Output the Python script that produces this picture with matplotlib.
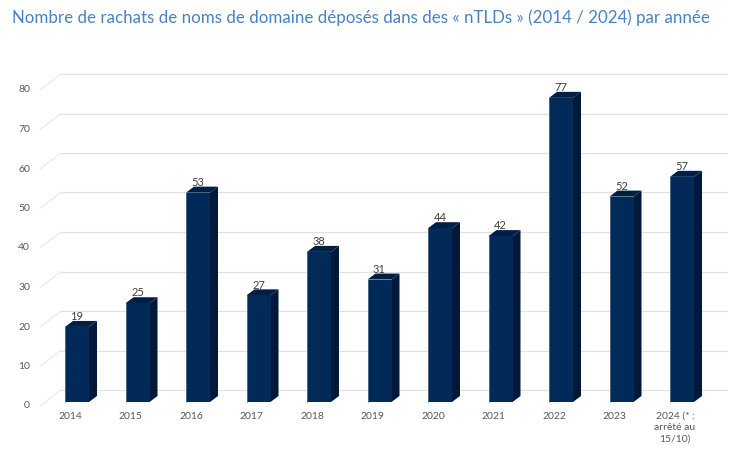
import matplotlib.pyplot as plt
from matplotlib.patches import Polygon

# chart data
years = ["2014", "2015", "2016", "2017", "2018", "2019", "2020", "2021",
         "2022", "2023", "2024 (* :\narrêté au\n15/10)"]
rachats = [19, 25, 53, 27, 38, 31, 44, 42, 77, 52, 57]
y_ticks = [0, 10, 20, 30, 40, 50, 60, 70, 80]

title = "Nombre de rachats de noms de domaine déposés dans des « nTLDs » (2014 / 2024) par année"

# colours
front_col = "#012a58"
side_col = "#00193a"
top_col = "#001f45"
grid_col = "#e0e0e0"
text_col = "#404040"

plt.rcParams['font.family'] = ['Lato', 'DejaVu Sans']

W, H = 745, 462
fig = plt.figure(figsize=(W / 100, H / 100), dpi=100)
ax = fig.add_axes([0, 0, 1, 1])
ax.axis("off")

# pixel mapping: category i -> 77 + 60.5*i, value 0 -> y pixel 402, 3.95 px per unit
px_x, x0 = 60.5, 77
px_y, y0 = 3.95, 402
ax.set_xlim((0 - x0) / px_x, (W - x0) / px_x)
ax.set_ylim(-(H - y0) / px_y, y0 / px_y)

# 3d depth (in data units)
bar_half = 12 / px_x
bar_dx = 8 / px_x
bar_dy = 6 / px_y
wall_x0 = (61 - x0) / px_x
wall_x1 = (727 - x0) / px_x
wall_dy = (402 - 390) / px_y
diag_x0 = (40 - x0) / px_x
diag_dy = -4 / px_y

# back wall gridlines and floor diagonals
for v in y_ticks:
    ax.plot([wall_x0, wall_x1], [v + wall_dy, v + wall_dy], color=grid_col, lw=0.9, zorder=1)
    ax.plot([diag_x0, wall_x0], [v + diag_dy, v + wall_dy], color="#e8e8e8", lw=0.8, zorder=1)
    ax.text(diag_x0 - 10 / px_x, v + diag_dy, str(v), ha="right", va="center",
            fontsize=7.5, color="#595959")

# bars
for i, val in enumerate(rachats):
    l, r = i - bar_half, i + bar_half
    ax.add_patch(Polygon([(r, 0), (r + bar_dx, bar_dy), (r + bar_dx, val + bar_dy), (r, val)],
                         closed=True, facecolor=side_col, edgecolor="none", zorder=3))
    ax.add_patch(Polygon([(l, val), (r, val), (r + bar_dx, val + bar_dy), (l + bar_dx, val + bar_dy)],
                         closed=True, facecolor=top_col, edgecolor="none", zorder=3))
    ax.add_patch(Polygon([(l, 0), (r, 0), (r, val), (l, val)],
                         closed=True, facecolor=front_col, edgecolor="none", zorder=4))
    ax.plot([l, l], [0, val], color="#6d84a3", lw=0.5, zorder=5)
    ax.text(i, val + bar_dy - 0.3, str(val), ha="center", va="bottom",
            fontsize=8, color=text_col, zorder=5)
    ax.text(i - 7 / px_x, -10 / px_y, years[i], ha="center", va="top",
            fontsize=7.5, color="#595959", linespacing=1.35)

fig.text(12 / W, 1 - 18 / H, title, ha="left", va="center",
         fontsize=12.2, color="#4582c6")

fig.savefig("out.png", dpi=100)
